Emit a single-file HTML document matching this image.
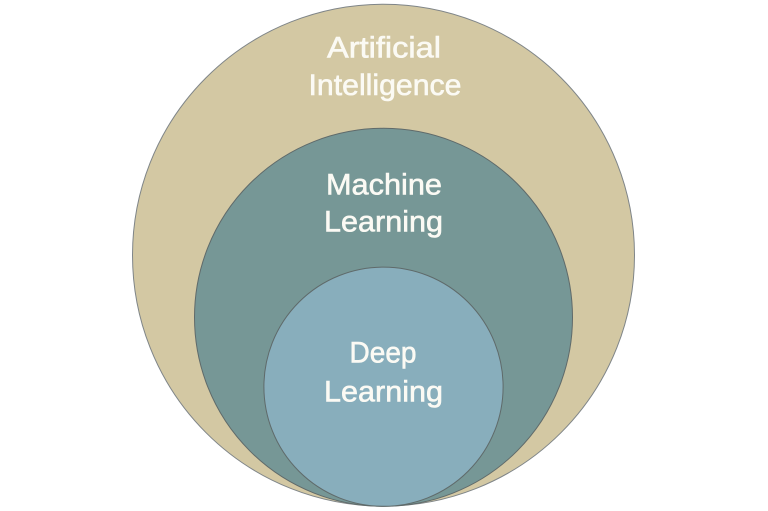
<!DOCTYPE html>
<html>
<head>
<meta charset="utf-8">
<style>
html,body{margin:0;padding:0;background:#ffffff;width:768px;height:511px;overflow:hidden;}
svg{display:block;}
text{font-family:"Liberation Sans",sans-serif;font-size:30px;fill:#fbfaf4;stroke:#fbfaf4;stroke-width:0.6px;}
</style>
</head>
<body>
<svg width="768" height="511" viewBox="0 0 768 511" xmlns="http://www.w3.org/2000/svg">
  <circle cx="383.5" cy="255.2" r="251" fill="#d3c8a3" stroke="#7f8588" stroke-width="1"/>
  <circle cx="383.5" cy="317.3" r="189" fill="#769796" stroke="#5f6a6a" stroke-width="1"/>
  <circle cx="383.5" cy="386.7" r="119.6" fill="#88aebc" stroke="#5f6a6a" stroke-width="1"/>

  <text x="384" y="57.5" text-anchor="middle" textLength="114" lengthAdjust="spacingAndGlyphs">Artificial</text>
  <text x="385" y="95" text-anchor="middle" textLength="153" lengthAdjust="spacingAndGlyphs">Intelligence</text>

  <text x="384" y="194.3" text-anchor="middle" textLength="116" lengthAdjust="spacingAndGlyphs">Machine</text>
  <text x="383.5" y="231.7" text-anchor="middle" textLength="119" lengthAdjust="spacingAndGlyphs">Learning</text>

  <text x="383" y="362.5" text-anchor="middle" textLength="67" lengthAdjust="spacingAndGlyphs">Deep</text>
  <text x="383.5" y="401.5" text-anchor="middle" textLength="119" lengthAdjust="spacingAndGlyphs">Learning</text>
</svg>
</body>
</html>
